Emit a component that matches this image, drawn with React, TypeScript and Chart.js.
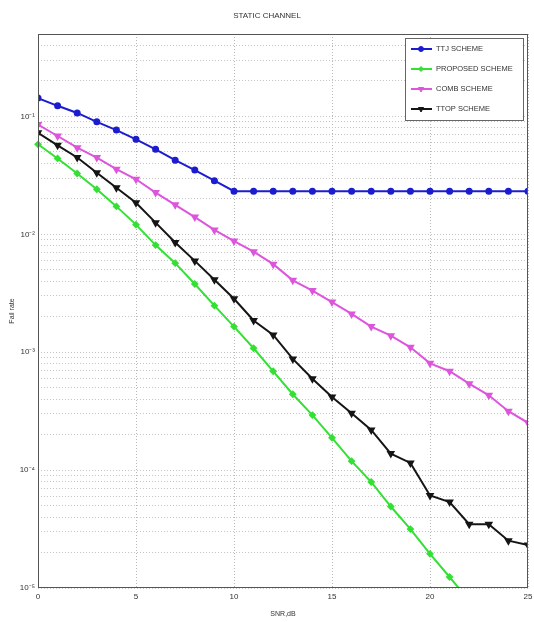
import React, { useEffect, useRef } from "react";
import { Chart, registerables } from "chart.js";

Chart.register(...registerables);

// ---- data ----
const snrDb = [0, 1, 2, 3, 4, 5, 6, 7, 8, 9, 10, 11, 12, 13, 14, 15, 16, 17, 18, 19, 20, 21, 22, 23, 24, 25];

const ttjScheme = [
  0.143, 0.123, 0.107, 0.09, 0.0766, 0.0639, 0.0526, 0.0425, 0.0351, 0.0285, 0.0232,
  0.0232, 0.0232, 0.0232, 0.0232, 0.0232, 0.0232, 0.0232, 0.0232, 0.0232, 0.0232,
  0.0232, 0.0232, 0.0232, 0.0232, 0.0232,
];

const proposedScheme = [
  0.058, 0.044, 0.0328, 0.0241, 0.01725, 0.01208, 0.0081, 0.00569, 0.00379, 0.00248, 0.00165,
  0.00108, 0.000689, 0.00044, 0.000293, 0.000188, 0.000119, 0.0000793, 0.0000491, 0.0000316,
  0.0000195, 0.0000124, 0.0000078,
];

const combScheme = [
  0.0853, 0.0682, 0.0543, 0.0448, 0.0357, 0.0293, 0.0226, 0.0178, 0.014, 0.0109, 0.00877,
  0.00713, 0.00558, 0.00407, 0.00333, 0.00266, 0.00211, 0.00165, 0.00138, 0.0011, 0.000805,
  0.00069, 0.000541, 0.000431, 0.000316, 0.000252,
];

const ttopScheme = [
  0.0726, 0.0568, 0.0448, 0.0333, 0.0248, 0.0185, 0.01256, 0.00853, 0.00595, 0.00412, 0.00284,
  0.00186, 0.0014, 0.000877, 0.000595, 0.000417, 0.000303, 0.000219, 0.000138, 0.000115,
  0.000061, 0.0000536, 0.0000348, 0.0000348, 0.0000252, 0.0000232,
];

const seriesLabels = ["TTJ SCHEME", "PROPOSED SCHEME", "COMB SCHEME", "TTOP SCHEME"];
const xTickValues = [0, 5, 10, 15, 20, 25];
const yMajorTicks = [1e-5, 1e-4, 1e-3, 1e-2, 1e-1];
const yTickLabels = ["10⁻⁵", "10⁻⁴", "10⁻³", "10⁻²", "10⁻¹"];
const yMin = 1e-5;
const yMax = 0.5;

const FONT = "'Liberation Sans', Arial, sans-serif";

function toPoints(vals: number[]) {
  return vals.map((v, i) => ({ x: snrDb[i], y: v }));
}

function drawMarker(ctx: CanvasRenderingContext2D, style: string, x: number, y: number, r: number, rot: number, color: string) {
  ctx.save();
  ctx.translate(x, y);
  ctx.rotate((rot * Math.PI) / 180);
  ctx.fillStyle = color;
  ctx.strokeStyle = color;
  ctx.lineWidth = 1;
  ctx.beginPath();
  if (style === "circle") {
    ctx.arc(0, 0, r, 0, Math.PI * 2);
  } else if (style === "rectRot") {
    ctx.moveTo(0, -r);
    ctx.lineTo(r, 0);
    ctx.lineTo(0, r);
    ctx.lineTo(-r, 0);
    ctx.closePath();
  } else {
    const h = r * 1.5;
    ctx.moveTo(0, -r);
    ctx.lineTo(r * 0.87, h - r);
    ctx.lineTo(-r * 0.87, h - r);
    ctx.closePath();
  }
  ctx.fill();
  ctx.stroke();
  ctx.restore();
}

const frameAndLegend = {
  id: "frameAndLegend",
  afterDraw(chart: any) {
    const { ctx, chartArea } = chart;
    ctx.save();
    // axes box
    ctx.strokeStyle = "#555";
    ctx.lineWidth = 1;
    ctx.strokeRect(
      Math.round(chartArea.left) + 0.5,
      Math.round(chartArea.top) + 0.5,
      Math.round(chartArea.right - chartArea.left) - 1,
      Math.round(chartArea.bottom - chartArea.top) - 1
    );
    // legend
    const x0 = Math.round(chartArea.right) - 123;
    const y0 = Math.round(chartArea.top) + 4;
    const w = 118;
    const h = 82;
    ctx.fillStyle = "#fff";
    ctx.fillRect(x0, y0, w, h);
    ctx.strokeStyle = "#666";
    ctx.strokeRect(x0 + 0.5, y0 + 0.5, w, h);
    chart.data.datasets.forEach((ds: any, i: number) => {
      const cy = y0 + 11 + i * 20;
      ctx.strokeStyle = ds.borderColor;
      ctx.lineWidth = 2;
      ctx.beginPath();
      ctx.moveTo(x0 + 6, cy);
      ctx.lineTo(x0 + 27, cy);
      ctx.stroke();
      drawMarker(ctx, ds.pointStyle, x0 + 16, cy, ds.pointRadius, ds.pointRotation || 0, ds.borderColor);
      ctx.fillStyle = "#333";
      ctx.font = `7.5px ${FONT}`;
      ctx.textBaseline = "middle";
      ctx.textAlign = "left";
      ctx.fillText(ds.label, x0 + 31, cy);
    });
    ctx.restore();
  },
};

export default function App() {
  const canvasRef = useRef<HTMLCanvasElement | null>(null);

  useEffect(() => {
    if (!canvasRef.current) return;
    const chart = new Chart(canvasRef.current, {
      type: "line",
      data: {
        datasets: [
          {
            label: seriesLabels[0],
            data: toPoints(ttjScheme),
            borderColor: "#1c1cd0",
            backgroundColor: "#1c1cd0",
            pointStyle: "circle",
            pointRadius: 2.5,
            borderWidth: 2,
          },
          {
            label: seriesLabels[1],
            data: toPoints(proposedScheme),
            borderColor: "#33e033",
            backgroundColor: "#33e033",
            pointStyle: "rectRot",
            pointRadius: 2.5,
            borderWidth: 2,
            clip: { left: 6, top: 6, right: 6, bottom: 0 },
          },
          {
            label: seriesLabels[2],
            data: toPoints(combScheme),
            borderColor: "#dd55dd",
            backgroundColor: "#dd55dd",
            pointStyle: "triangle",
            pointRotation: 180,
            pointRadius: 3,
            borderWidth: 2,
          },
          {
            label: seriesLabels[3],
            data: toPoints(ttopScheme),
            borderColor: "#151515",
            backgroundColor: "#151515",
            pointStyle: "triangle",
            pointRotation: 180,
            pointRadius: 3,
            borderWidth: 2,
          },
        ] as any,
      },
      options: {
        responsive: false,
        animation: false,
        layout: { padding: { top: 0, right: 0, left: 0, bottom: 0 } },
        plugins: {
          legend: { display: false },
          tooltip: { enabled: false },
          title: {
            display: true,
            text: "STATIC CHANNEL",
            color: "#333",
            font: { family: FONT, size: 8, weight: "normal" },
            padding: { top: 11, bottom: 13.4 },
          },
        },
        scales: {
          x: {
            type: "linear",
            min: 0,
            max: 25,
            afterBuildTicks: (scale: any) => {
              scale.ticks = xTickValues.map((v) => ({ value: v }));
            },
            afterFit: (scale: any) => {
              scale.height = 34;
            },
            ticks: {
              color: "#333",
              font: { family: FONT, size: 8 },
              padding: 0,
              maxRotation: 0,
              autoSkip: false,
            },
            grid: { color: "#b8b8b8", drawTicks: true, tickLength: 4, tickColor: "rgba(0,0,0,0)", lineWidth: 1 },
            border: { display: false, dash: [1, 2] },
            title: {
              display: true,
              text: "SNR,dB",
              color: "#333",
              font: { family: FONT, size: 7 },
              padding: { top: 2, bottom: 4 },
            },
          },
          y: {
            type: "logarithmic",
            min: yMin,
            max: yMax,
            afterBuildTicks: (scale: any) => {
              const t: any[] = [];
              for (let e = -5; e <= -1; e++) {
                for (let m = 1; m <= 9; m++) {
                  const v = m * Math.pow(10, e);
                  if (v >= yMin * 0.999 && v <= yMax * 1.001) t.push({ value: v, major: m === 1 });
                }
              }
              scale.ticks = t;
            },
            afterFit: (scale: any) => {
              scale.width = 38;
            },
            ticks: {
              color: "#333",
              font: { family: FONT, size: 8 },
              padding: 3,
              autoSkip: false,
              callback: (value: any) => {
                const idx = yMajorTicks.findIndex((m) => Math.abs(Math.log10(m) - Math.log10(Number(value))) < 1e-6);
                return idx >= 0 ? yTickLabels[idx] : "";
              },
            },
            grid: { color: "#c4c4c4", drawTicks: false, lineWidth: 1 },
            border: { display: false, dash: [1, 2] },
            title: {
              display: true,
              text: "Fail rate",
              color: "#333",
              font: { family: FONT, size: 7 },
              padding: { top: 8, bottom: 0 },
            },
          },
        },
      } as any,
      plugins: [frameAndLegend],
    });
    return () => chart.destroy();
  }, []);

  return (
    <div style={{ position: "absolute", left: 0, top: 0, width: 534, height: 622, background: "#fff" }}>
      <canvas ref={canvasRef} width={534} height={622} />
    </div>
  );
}
